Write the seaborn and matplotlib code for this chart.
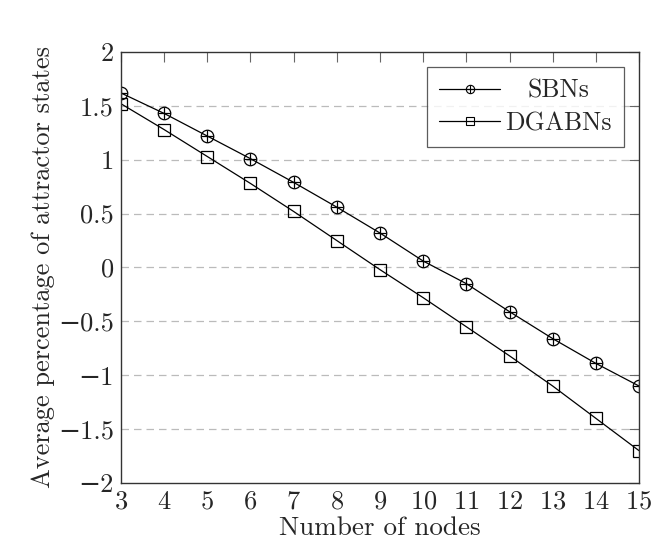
import matplotlib
matplotlib.use("Agg")
import matplotlib.pyplot as plt
from matplotlib.lines import Line2D
from matplotlib.legend_handler import HandlerTuple
from matplotlib.transforms import Affine2D
import seaborn as sns
import pandas as pd

# data
nodes = [3, 4, 5, 6, 7, 8, 9, 10, 11, 12, 13, 14, 15]
sbns = [1.62, 1.43, 1.22, 1.01, 0.79, 0.56, 0.32, 0.06, -0.15, -0.41, -0.66, -0.89, -1.10]
dgabns = [1.52, 1.28, 1.03, 0.78, 0.52, 0.25, -0.02, -0.28, -0.55, -0.82, -1.10, -1.40, -1.70]
y_ticks = [-2, -1.5, -1, -0.5, 0, 0.5, 1, 1.5, 2]
y_labels = ["\u22122", "\u22121.5", "\u22121", "\u22120.5", "0", "0.5", "1", "1.5", "2"]

sns.set_style("white")
plt.rcParams.update({
    "font.family": ["cmr10", "DejaVu Serif"],
    "mathtext.fontset": "cm",
    "axes.formatter.use_mathtext": True,
    "axes.edgecolor": "#333333",
    "axes.linewidth": 1.0,
})

df = pd.DataFrame({"nodes": nodes, "SBNs": sbns, "DGABNs": dgabns})

fig = plt.figure(figsize=(6.55, 5.57), dpi=100)
ax = fig.add_axes([0.1847, 0.1329, 0.7909, 0.7737])

for yv in y_ticks[1:-1]:
    ax.axhline(yv, color="#bbbbbb", lw=0.9, ls=(0, (6, 4)), zorder=0)

sns.lineplot(data=df, x="nodes", y="SBNs", ax=ax, color="black", lw=0.9,
             marker="o", markersize=9, markerfacecolor="none",
             markeredgecolor="black", markeredgewidth=0.9)
ax.plot(nodes, sbns, ls="none", marker="+", markersize=9, color="black", mew=0.9)
sns.lineplot(data=df, x="nodes", y="DGABNs", ax=ax, color="black", lw=0.9,
             marker="s", markersize=8, markerfacecolor="none",
             markeredgecolor="black", markeredgewidth=0.9)

ax.set_xlim(3, 15)
ax.set_ylim(-2, 2)
ax.set_xticks(nodes)
ax.set_yticks(y_ticks)
ax.set_yticklabels(y_labels)
ax.tick_params(direction="in", length=7, width=0.8, top=True, right=True,
               labelsize=19, pad=5, color="#666666")
ax.set_xlabel("Number of nodes", fontsize=19.5, labelpad=2)
ax.set_ylabel("Average percentage of attractor states", fontsize=19, labelpad=2)

# legend: oplus and square handles, text centred in its column
h1 = (Line2D([], [], color="black", lw=0.9, marker="o", markersize=6,
             mfc="none", mec="black", mew=0.8),
      Line2D([], [], ls="none", color="black", marker="+", markersize=6, mew=0.8))
h2 = Line2D([], [], color="black", lw=0.9, marker="s", markersize=5.5,
            mfc="none", mec="black", mew=0.8)
leg = ax.legend([h1, h2], ["SBNs", "DGABNs"], loc="upper right", fontsize=18.5,
                handler_map={tuple: HandlerTuple(ndivide=1, pad=0)},
                frameon=True, fancybox=False, edgecolor="#333333",
                handlelength=2.4, handletextpad=0.2, borderpad=0.45,
                labelspacing=0.35, borderaxespad=0.6)
leg.get_frame().set_linewidth(0.9)

fig.canvas.draw()
renderer = fig.canvas.get_renderer()
texts = leg.get_texts()
widths = [t.get_window_extent(renderer).width for t in texts]
dx = (max(widths) - widths[0]) / 2
texts[0].set_transform(texts[0].get_transform() + Affine2D().translate(dx, 0))

fig.savefig("out.png", dpi=100)
